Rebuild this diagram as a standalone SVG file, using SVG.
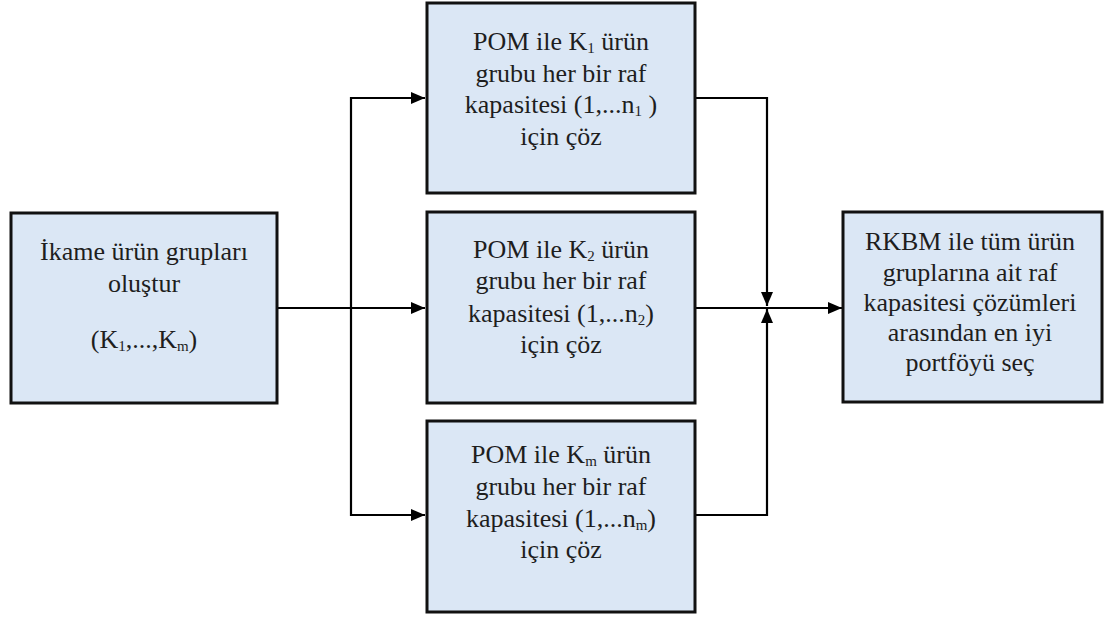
<svg xmlns="http://www.w3.org/2000/svg" width="1105" height="619" viewBox="0 0 1105 619">
<defs>
<marker id="ah" viewBox="0 0 14 12" refX="14" refY="6" markerWidth="14" markerHeight="12" markerUnits="userSpaceOnUse" orient="auto">
<path d="M0,0 L14,6 L0,12 Z" fill="#000"/>
</marker>
<style>
.box{fill:#dbe7f5;stroke:#111;stroke-width:3}
text{font-family:'Liberation Serif','Times New Roman',serif;font-size:26px;fill:#1e1e1e;text-anchor:middle}
.s{font-size:15px}
.c{fill:none;stroke:#000;stroke-width:2.2}
</style>
</defs>
<rect width="1105" height="619" fill="#fff"/>
<g id="connectors">
<path class="c" d="M277,308 H425" marker-end="url(#ah)"/>
<path class="c" d="M351,308 V98 H425" marker-end="url(#ah)"/>
<path class="c" d="M351,308 V515 H425" marker-end="url(#ah)"/>
<path class="c" d="M696,98 H767 V306" marker-end="url(#ah)"/>
<path class="c" d="M696,515 H767 V309" marker-end="url(#ah)"/>
<path class="c" d="M696,308 H842" marker-end="url(#ah)"/>
</g>
<g id="n0">
<rect class="box" x="11" y="213" width="266" height="190"/>
<text x="144" y="260">İkame ürün grupları</text>
<text x="144" y="292">oluştur</text>
<text x="144" y="348">(K<tspan class="s" dy="3">1</tspan><tspan dy="-3">,...,K</tspan><tspan class="s" dy="3">m</tspan><tspan dy="-3">)</tspan></text>
</g>
<g id="n1">
<rect class="box" x="427" y="3" width="268" height="190"/>
<text x="561" y="50">POM ile  K<tspan class="s" dy="3">1</tspan><tspan dy="-3"> ürün</tspan></text>
<text x="561" y="82">grubu her bir raf</text>
<text x="561" y="113">kapasitesi (1,...n<tspan class="s" dy="3">1</tspan><tspan dy="-3"> )</tspan></text>
<text x="561" y="145">için çöz</text>
</g>
<g id="n2">
<rect class="box" x="427" y="212" width="268" height="191"/>
<text x="561" y="258">POM ile K<tspan class="s" dy="3">2</tspan><tspan dy="-3"> ürün</tspan></text>
<text x="561" y="289">grubu her bir raf</text>
<text x="561" y="322">kapasitesi (1,...n<tspan class="s" dy="3">2</tspan><tspan dy="-3">)</tspan></text>
<text x="561" y="353">için çöz</text>
</g>
<g id="n3">
<rect class="box" x="427" y="421" width="268" height="191"/>
<text x="561" y="463">POM ile K<tspan class="s" dy="3">m</tspan><tspan dy="-3"> ürün</tspan></text>
<text x="561" y="495">grubu her bir raf</text>
<text x="561" y="527">kapasitesi (1,...n<tspan class="s" dy="3">m</tspan><tspan dy="-3">)</tspan></text>
<text x="561" y="558">için çöz</text>
</g>
<g id="n4">
<rect class="box" x="843" y="212" width="259" height="190"/>
<text x="970" y="250">RKBM ile tüm ürün</text>
<text x="970" y="281">gruplarına ait raf</text>
<text x="970" y="311">kapasitesi çözümleri</text>
<text x="970" y="341">arasından en iyi</text>
<text x="970" y="371">portföyü seç</text>
</g>
</svg>
